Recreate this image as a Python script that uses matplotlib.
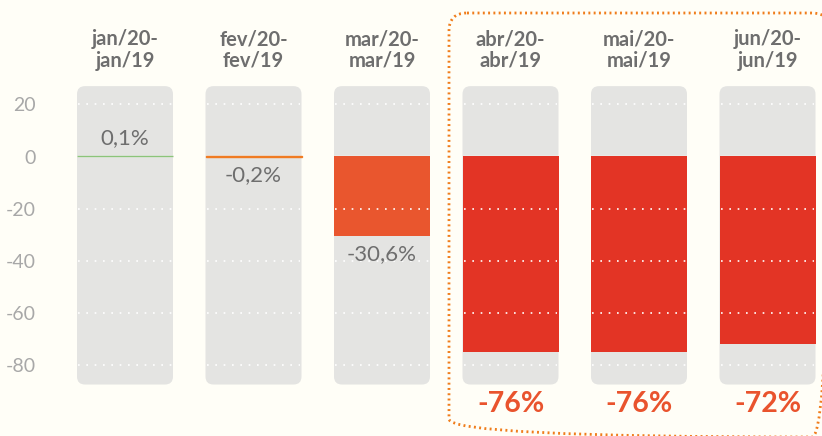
import matplotlib
matplotlib.use("Agg")
import matplotlib.pyplot as plt
from matplotlib.patches import FancyBboxPatch

# ---- data ----
headers = ["jan/20-\njan/19", "fev/20-\nfev/19", "mar/20-\nmar/19",
           "abr/20-\nabr/19", "mai/20-\nmai/19", "jun/20-\njun/19"]
values = [0.1, -0.2, -30.6, -75.0, -75.0, -72.0]
value_labels = ["0,1%", "-0,2%", "-30,6%", "-76%", "-76%", "-72%"]
bar_colors = ["#8cc47a", "#f07b22", "#e9562e", "#e33425", "#e33425", "#e33425"]
yticks = [20, 0, -20, -40, -60, -80]
grid_levels = [20, -20, -40, -60, -80]

BG = "#fffef7"
GRAY_COL = "#e4e4e2"
TXT = "#6e6e6e"
TICK = "#a8a8a8"
HILITE = "#e9532d"
BOX = "#f07d1c"

plt.rcParams['font.family'] = ['Lato', 'DejaVu Sans']

W, H = 822, 436
fig = plt.figure(figsize=(W / 100, H / 100), dpi=100, facecolor=BG)

# axes geometry (pixels)
px_per_x = 128.5
px_per_y = 2.606
zero_px = 156.5
ax_left_px = 60.75
ax_top_px = 80
ax_bot_px = 390
ax = fig.add_axes([ax_left_px / W, (H - ax_bot_px) / H,
                   (W - ax_left_px) / W, (ax_bot_px - ax_top_px) / H])
ax.set_facecolor(BG)
ax.set_xlim(-0.5, -0.5 + (W - ax_left_px) / px_per_x)
ax.set_ylim(-(ax_bot_px - zero_px) / px_per_y, (zero_px - ax_top_px) / px_per_y)
for s in ax.spines.values():
    s.set_visible(False)

n = len(values)
xs = list(range(n))
colw = 96 / px_per_x
col_top, col_bot = 27.0, -87.5
rad = 8 / px_per_x
for x in xs:
    p = FancyBboxPatch((x - colw / 2, col_bot), colw, col_top - col_bot,
                       boxstyle=f"round,pad=0,rounding_size={rad}",
                       mutation_aspect=px_per_x / px_per_y,
                       facecolor=GRAY_COL, edgecolor="none", zorder=1)
    ax.add_patch(p)

# white zero separator
ax.hlines([0] * n, [x - colw / 2 for x in xs], [x + colw / 2 for x in xs],
          colors="white", linewidth=1.0, zorder=2)

bars = ax.bar(xs, values, width=colw, color=bar_colors, edgecolor=bar_colors,
              linewidth=[1.0, 1.0, 0, 0, 0, 0], zorder=3)

# dotted grid inside columns
for g in grid_levels:
    ax.hlines([g] * n, [x - colw / 2 + 0.01 for x in xs], [x + colw / 2 - 0.01 for x in xs],
              colors="white", linewidth=1.2, linestyles=(0, (1, 4)), zorder=4)

ax.set_yticks(yticks)
ax.set_yticklabels([str(t) for t in yticks])
ax.tick_params(axis='y', length=0, pad=18, labelsize=14, labelcolor=TICK)
ax.set_xticks([])

# headers
for x, h in zip(xs, headers):
    ax.annotate(h, xy=(x, H - 50), xycoords=('data', 'figure pixels'),
                ha='center', va='center', fontsize=14.5, fontweight='bold',
                color=TXT, linespacing=1.1, annotation_clip=False)

# value labels
for i, (x, v, lab) in enumerate(zip(xs, values, value_labels)):
    if i < 3:
        if i == 0:
            y, va = v + 3.0, 'bottom'
        else:
            y, va = v - 3.0, 'top'
        ax.text(x, y, lab, ha='center', va=va, fontsize=16, color=TXT, zorder=5)
    else:
        ax.annotate(lab, xy=(x, H - 404), xycoords=('data', 'figure pixels'),
                    ha='center', va='center', fontsize=20.5, fontweight='bold',
                    color=HILITE, annotation_clip=False)

# dotted highlight box (figure pixel coords overlay)
ov = fig.add_axes([0, 0, 1, 1], facecolor='none')
ov.set_xlim(0, W)
ov.set_ylim(H, 0)
ov.axis('off')
box = FancyBboxPatch((449, 13), 830 - 449, 437 - 13,
                     boxstyle="round,pad=0,rounding_size=18",
                     facecolor='none', edgecolor=BOX, linewidth=2.0,
                     linestyle=(0, (0.7, 1.2)), clip_on=False)
ov.add_patch(box)

fig.savefig("out.png", dpi=100, facecolor=BG)
